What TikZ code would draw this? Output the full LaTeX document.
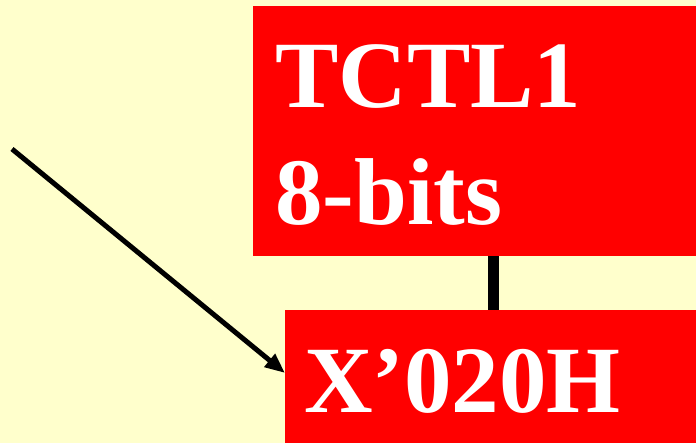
\documentclass[tikz,border=0pt]{standalone}
\usepackage{fontspec}
\setmainfont{Liberation Serif}
\usetikzlibrary{arrows.meta,calc}
\definecolor{bgyellow}{HTML}{FFFFCC}
\definecolor{boxred}{HTML}{FF0000}
\begin{document}
\begin{tikzpicture}[x=1pt,y=-1pt,
  regbox/.style={fill=boxred,draw=none,inner sep=0pt,anchor=north west},
  bigtext/.style={text=white,font=\fontsize{95}{114}\selectfont\bfseries,inner sep=0pt,anchor=base west}]
\fill[bgyellow] (0,0) rectangle (696,443);
\useasboundingbox (0,0) rectangle (696,443);
\node[regbox,minimum width=443pt,minimum height=250pt] (box1) at (253,6) {};
\node[regbox,minimum width=411pt,minimum height=133pt] (box2) at (285,310) {};
\node[bigtext] (t1) at (275,108) {TCTL1};
\node[bigtext] (t2) at (275,225) {8-bits};
\node[bigtext] (t3) at (304,413) {X’020H};
\coordinate (c) at (493,0);
\draw[line width=11pt] (box1.south -| c) -- (box2.north -| c);
\coordinate (a0) at (12,149);
\coordinate (a1) at (0,373);
\draw[line width=5pt,-{Triangle[length=20pt,width=16pt]}] (a0) -- (box2.west |- a1);
\end{tikzpicture}
\end{document}
